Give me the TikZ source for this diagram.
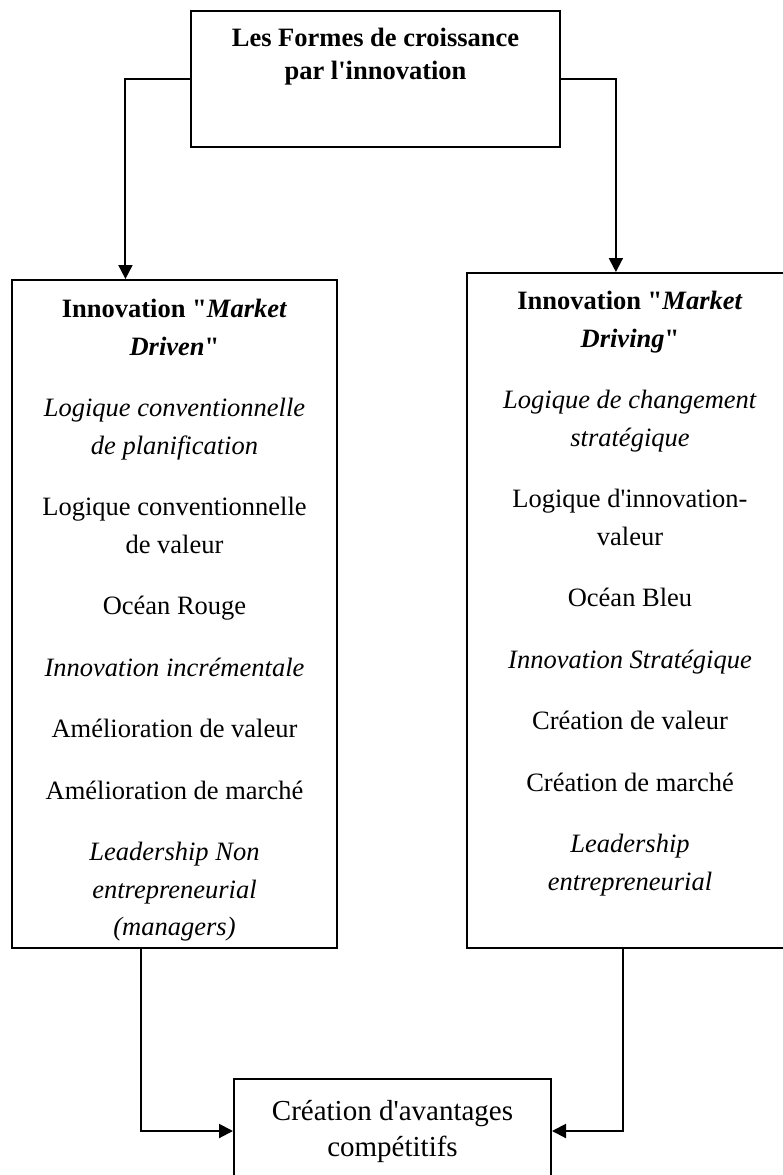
\documentclass[tikz,border=0pt]{standalone}
\usepackage{fontspec}
\setmainfont{Liberation Serif}[Ligatures=TeXOff]
\usepackage{tikz}
\usetikzlibrary{arrows.meta, positioning, calc}
\tikzset{
  cadre/.style ={rectangle, draw=black, line width=2pt, inner sep=0pt},
  titre/.style ={align=center, inner sep=0pt, font=\fontsize{26.5}{33}\selectfont\bfseries},
  liste/.style ={align=center, inner sep=0pt, font=\fontsize{26.5}{37.5}\selectfont},
  fin/.style   ={align=center, inner sep=0pt, font=\fontsize{29}{36}\selectfont},
  fl/.style    ={-{Triangle[length=14pt,width=14pt]}, line width=2pt},
}

\begin{document}
\begin{tikzpicture}[x=1pt,y=-1pt]
\fill[white] (0,0) rectangle (783,1175);
\useasboundingbox (0,0) rectangle (783,1175);
\clip (0,0) rectangle (783,1175);
% boites
\node[cadre, minimum width=369pt, minimum height=136pt] (formes) at (375.5,79) {};
\node[titre, below=18pt of formes.north] (formestxt) {Les Formes de croissance\\par l'innovation};
\node[cadre, minimum width=325pt, minimum height=668pt] (gauche) at (174.5,614) {};
\node[cadre, minimum width=326pt, minimum height=675pt] (droite) at (630,610.5) {};
\node[cadre, fin, minimum width=317pt, minimum height=104pt] (creation) at (392.5,1131) {Création d'avantages\\compétitifs};
% textes des deux colonnes
\node[liste, below=20pt of gauche.north] (gauchetxt) {%
  {\bfseries Innovation "\textit{Market}}\\
  {\bfseries\itshape Driven}{\bfseries "}\\[24pt]
  \textit{Logique conventionnelle}\\
  \textit{de planification}\\[24pt]
  Logique conventionnelle\\
  de valeur\\[24pt]
  Océan Rouge\\[24pt]
  \textit{Innovation incrémentale}\\[24pt]
  Amélioration de valeur\\[24pt]
  Amélioration de marché\\[24pt]
  \textit{Leadership Non}\\
  \textit{entrepreneurial}\\
  \textit{(managers)}};
\node[liste, below=19pt of droite.north] (droitetxt) {%
  {\bfseries Innovation "\textit{Market}}\\
  {\bfseries\itshape Driving}{\bfseries "}\\[24pt]
  \textit{Logique de changement}\\
  \textit{stratégique}\\[24pt]
  Logique d'innovation-\\
  valeur\\[24pt]
  Océan Bleu\\[24pt]
  \textit{Innovation Stratégique}\\[24pt]
  Création de valeur\\[24pt]
  Création de marché\\[24pt]
  \textit{Leadership}\\
  \textit{entrepreneurial}};
% fleches
\draw[fl] (formes.west) -| ($(gauche.north west)!0.35!(gauche.north east)$);
\draw[fl] (formes.east) -| ($(droite.north west)!0.457!(droite.north east)$);
\draw[fl] ($(gauche.south west)!0.397!(gauche.south east)$) |- (creation.west);
\draw[fl] ($(droite.south west)!0.48!(droite.south east)$) |- (creation.east);
\end{tikzpicture}
\end{document}
